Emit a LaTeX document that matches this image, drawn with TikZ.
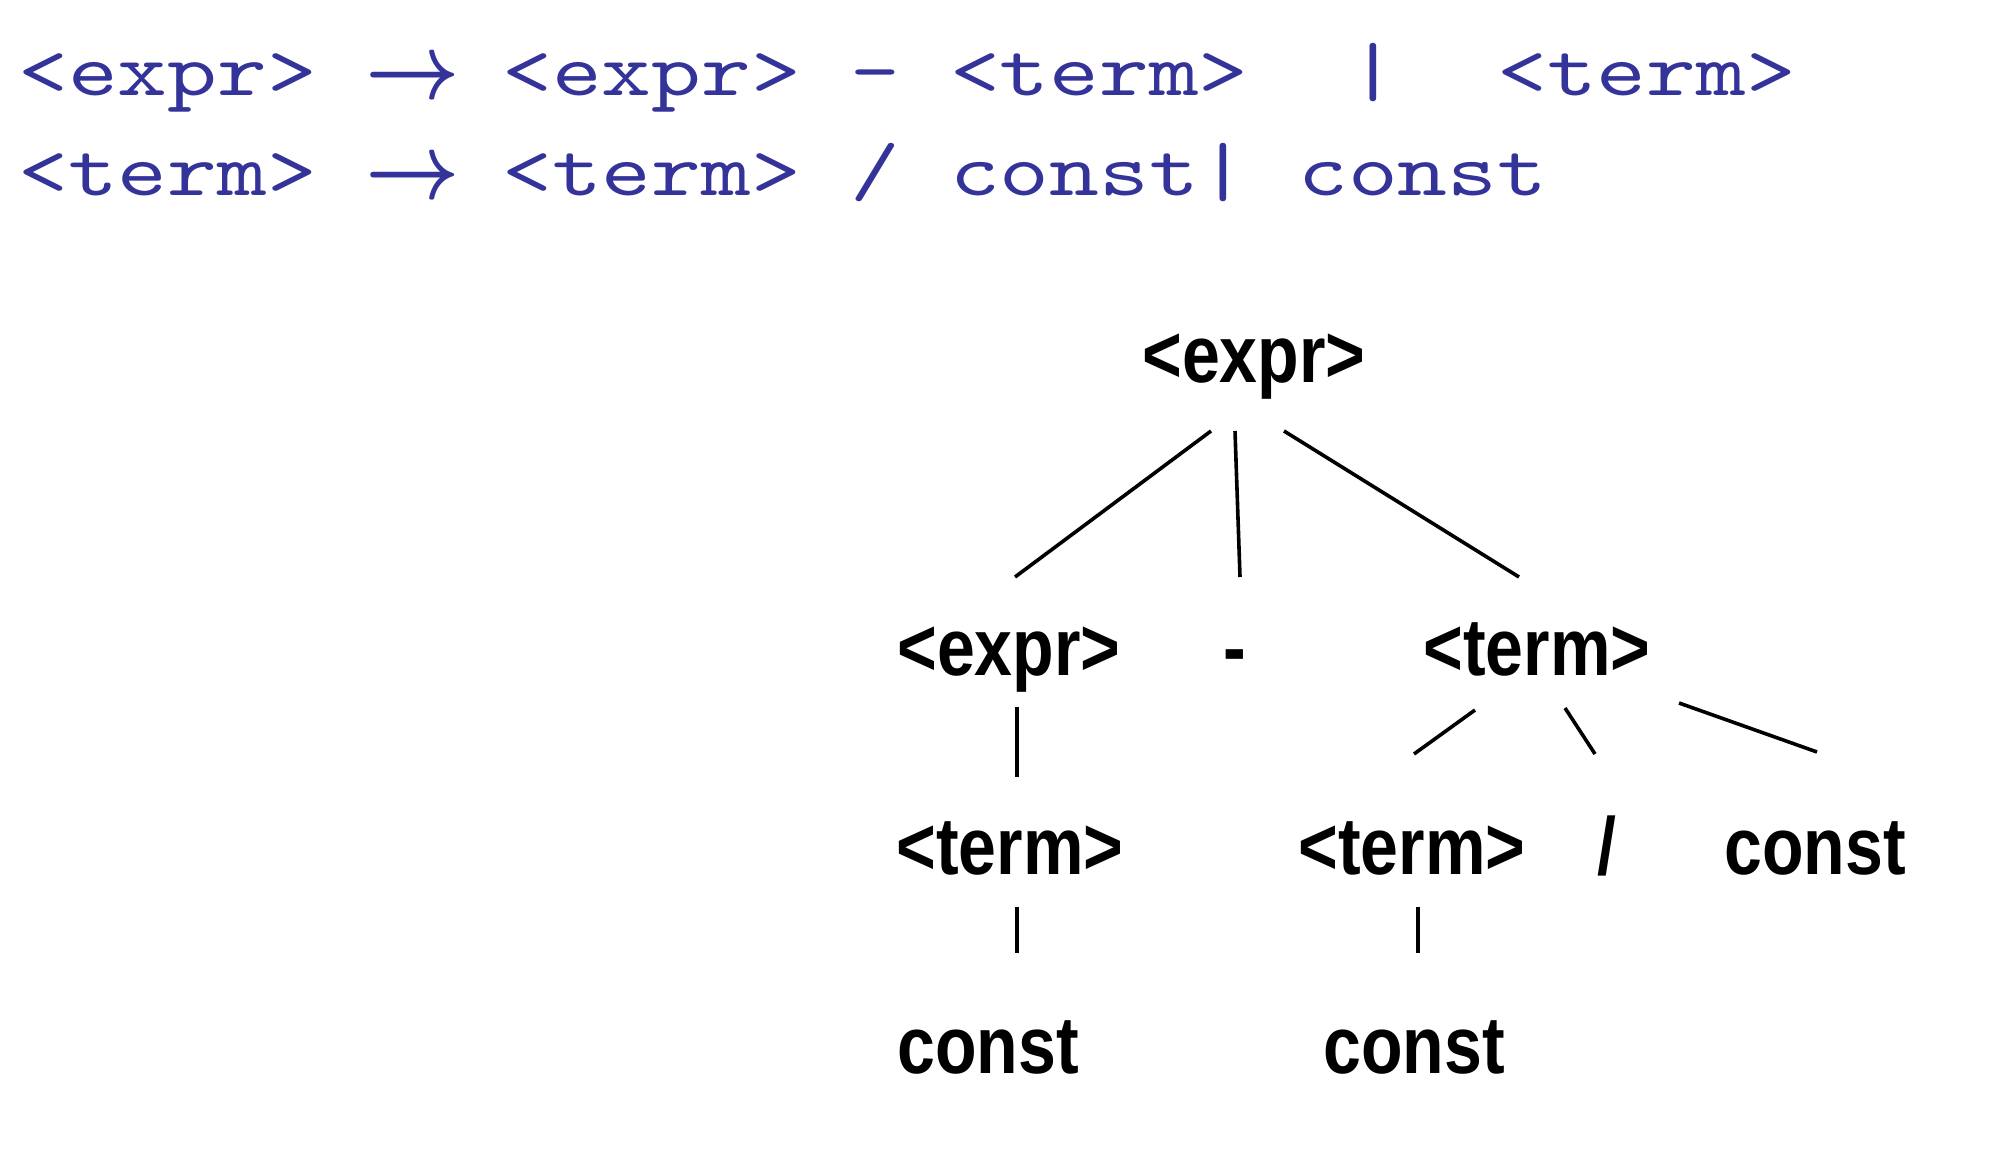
\documentclass[tikz,border=0pt]{standalone}
\usepackage{fontspec}
\newfontfamily\gramfont[FakeStretch=1.26]{lmmono10-regular.otf}
\newfontfamily\treefont[FakeStretch=0.84]{Liberation Sans}
\usetikzlibrary{calc}
\definecolor{gram}{HTML}{333399}
\newcommand\gramarrow{\scalebox{1.98}[2.25]{$\rightarrow$}}
\begin{document}
\begin{tikzpicture}[x=0.5pt,y=-0.5pt,
  gtext/.style={anchor=base west, inner sep=0, text=gram, font=\gramfont\fontsize{37.6}{44}\selectfont},
  garrow/.style={anchor=base west, inner sep=0, text=gram, font=\fontsize{20.74}{25}\selectfont\boldmath},
  tnode/.style={anchor=base, inner sep=0, font=\treefont\bfseries\fontsize{40.5}{48}\selectfont},
  edge/.style={line width=1.8pt}]
\useasboundingbox (0,0) rectangle (2012,1150);
% grammar
\node[gtext] (g1a) at (18,96) {<expr>};
\node[garrow] (g1b) at (365,99) {\gramarrow};
\node[gtext] (g1c) at (502,96) {<expr> - <term>~~|~~<term>};
\node[gtext] (g2a) at (18,196) {<term>};
\node[garrow] (g2b) at (365,199) {\gramarrow};
\node[gtext] (g2c) at (502,196) {<term> / const| const};
% tree
\node[tnode] (e0) at (1254,382) {<expr>};
\node[tnode] (e1) at (1009,675) {<expr>};
\node[tnode] (m)  at (1235,675) {-};
\node[tnode] (t1) at (1537,675) {<term>};
\node[tnode] (t2) at (1010,874) {<term>};
\node[tnode] (t3) at (1412,874) {<term>};
\node[tnode] (sl) at (1607,874) {/};
\node[tnode] (c1) at (1815,874) {const};
\node[tnode] (c2) at (988,1073) {const};
\node[tnode] (c3) at (1414,1073) {const};
\draw[edge] ($(e0.base)+(-43,49)$) -- ($(e1.base)+(6,-98)$);
\draw[edge] ($(e0.base)+(-19,49)$) -- ($(m.base)+(5,-98)$);
\draw[edge] ($(e0.base)+(30,49)$) -- ($(t1.base)+(-18,-98)$);
\draw[edge] ($(e1.base)+(8,32)$) -- ($(t2.base)+(7,-97)$);
\draw[edge] ($(t1.base)+(-62,35)$) -- ($(t3.base)+(2,-120)$);
\draw[edge] ($(t1.base)+(28,33)$) -- ($(sl.base)+(-12,-120)$);
\draw[edge] ($(t1.base)+(142,28)$) -- ($(c1.base)+(2,-122)$);
\draw[edge] ($(t2.base)+(7,33)$) -- ($(c2.base)+(29,-120)$);
\draw[edge] ($(t3.base)+(6,33)$) -- ($(c3.base)+(4,-120)$);
\end{tikzpicture}
\end{document}
